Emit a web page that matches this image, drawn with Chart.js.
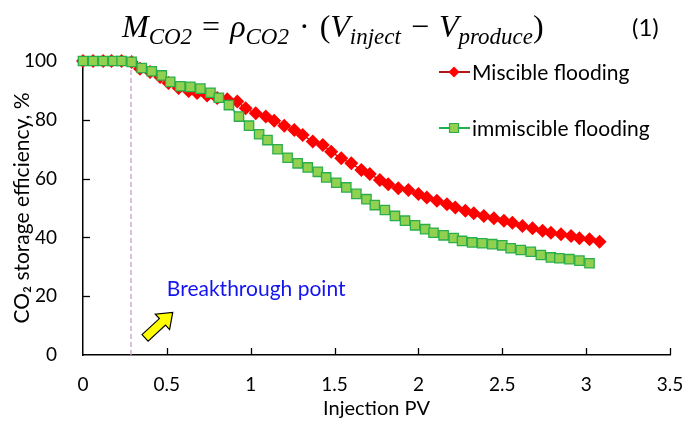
<!DOCTYPE html>
<html>
<head>
<meta charset="utf-8">
<script src="https://cdn.jsdelivr.net/npm/chart.js@4.4.1/dist/chart.umd.min.js"></script>
<style>
html, body { margin: 0; padding: 0; background: #fff; }
#wrap { position: relative; width: 685px; height: 422px; overflow: hidden; }
#eq { position: absolute; left: 122px; top: 8px; font-family: "Liberation Serif", serif; font-size: 32px; white-space: nowrap; color: #000; }
#eq i { font-style: italic; }
#eq sub { font-size: 23px; font-style: italic; vertical-align: -7px; line-height: 0; }
#eq .op { padding: 0 10px; }
#eqn { position: absolute; left: 632px; top: 12px; font-family: Lato, sans-serif; font-size: 24px; color: #000; }
canvas { position: absolute; left: 0; top: 0; }
</style>
</head>
<body>
<div id="wrap">
  <canvas id="chart" width="685" height="422"></canvas>
  <div id="eq"><i>M</i><sub>CO2</sub><span class="op">=</span><i>ρ</i><sub>CO2</sub><span class="op">·</span>(<i>V</i><sub>inject</sub><span class="op">−</span><i>V</i><sub>produce</sub>)</div>
  <div id="eqn">(1)</div>
</div>
<script>
// miscible flooding (red diamonds)
const missPV = [0.00, 0.06, 0.12, 0.17, 0.23, 0.29, 0.34, 0.40, 0.46, 0.51, 0.57, 0.63, 0.68, 0.74, 0.80,
  0.86, 0.92, 0.97, 1.03, 1.09, 1.14, 1.20, 1.26, 1.31, 1.37, 1.43, 1.48, 1.54, 1.60, 1.66,
  1.71, 1.77, 1.82, 1.88, 1.94, 2.00, 2.05, 2.11, 2.17, 2.22, 2.28, 2.33, 2.39, 2.45, 2.51,
  2.56, 2.62, 2.68, 2.74, 2.79, 2.85, 2.91, 2.96, 3.02, 3.08]
const missEff = [100, 100, 100, 100, 100, 99.7, 97.4, 96.3, 94.6, 92.5, 90.8, 89.8, 89.1, 88.3, 87.4,
  87.0, 86.2, 83.9, 82.2, 81.1, 79.7, 78.0, 76.5, 74.8, 72.6, 71.4, 69.1, 66.9, 65.2, 62.9,
  61.6, 59.5, 58.1, 56.7, 56.1, 54.8, 53.6, 52.5, 51.3, 50.2, 49.1, 48.2, 47.3, 46.5, 45.7,
  45.0, 43.9, 43.1, 42.3, 41.6, 41.1, 40.5, 39.7, 39.4, 38.5]

// immiscible flooding (green squares)
const immPV = [0.00, 0.06, 0.12, 0.18, 0.23, 0.29, 0.35, 0.41, 0.47, 0.52, 0.58, 0.64, 0.70, 0.76, 0.81,
  0.87, 0.93, 0.99, 1.05, 1.10, 1.16, 1.22, 1.28, 1.34, 1.40, 1.45, 1.51, 1.57, 1.63, 1.69,
  1.74, 1.80, 1.86, 1.92, 1.98, 2.04, 2.09, 2.15, 2.21, 2.26, 2.32, 2.38, 2.44, 2.50, 2.55,
  2.61, 2.67, 2.73, 2.79, 2.84, 2.90, 2.96, 3.02]
const immEff = [100, 100, 100, 100, 100, 99.7, 97.6, 96.5, 95.1, 92.9, 91.4, 91.2, 90.6, 89.2, 87.5,
  85.0, 81.1, 78.0, 75.1, 73.1, 70.0, 67.1, 65.2, 63.8, 62.3, 60.4, 58.6, 57.0, 54.8, 53.0,
  51.0, 49.3, 47.3, 45.7, 44.1, 42.8, 41.6, 40.7, 39.8, 38.8, 38.3, 38.0, 37.7, 37.3, 36.3,
  35.7, 35.1, 34.0, 33.2, 32.9, 32.6, 32.1, 31.2]

const pvTicks = [0, 0.5, 1, 1.5, 2, 2.5, 3, 3.5]
const effTicks = [0, 20, 40, 60, 80, 100]
const breakthroughPV = 0.286
const seriesNames = ["Miscible flooding", "immiscible flooding"]
const noteText = "Breakthrough point"

const FONT = "Lato, sans-serif"

function pts(xs, ys){
    return xs.map((x, i) => ({x: x, y: ys[i]}))
}

function drawArrow(ctx, x0, y0, x1, y1){
    // block arrow from (x0,y0) to tip (x1,y1)
    const len = Math.hypot(x1 - x0, y1 - y0)
    const ang = Math.atan2(y1 - y0, x1 - x0)
    const sw = 4.5, hw = 10.5, hl = 14
    const shape = [[0, -sw], [len - hl, -sw], [len - hl, -hw], [len, 0], [len - hl, hw], [len - hl, sw], [0, sw]]
    ctx.save()
    ctx.translate(x0, y0)
    ctx.rotate(ang)
    ctx.beginPath()
    shape.forEach((p, i) => i ? ctx.lineTo(p[0], p[1]) : ctx.moveTo(p[0], p[1]))
    ctx.closePath()
    ctx.fillStyle = "#ffff00"
    ctx.fill()
    ctx.strokeStyle = "#000"
    ctx.lineWidth = 1.2
    ctx.stroke()
    ctx.restore()
}

const decor = {
    id: "decor",
    beforeDatasetsDraw(chart){
        const ctx = chart.ctx, xs = chart.scales.x, ys = chart.scales.y
        const a = chart.chartArea
        ctx.save()
        ctx.strokeStyle = "#000"
        ctx.lineWidth = 1.3
        pvTicks.forEach(v => {
            if (v === 0) return
            const px = Math.round(xs.getPixelForValue(v)) + 0.5
            ctx.beginPath(); ctx.moveTo(px, a.bottom); ctx.lineTo(px, a.bottom - 7); ctx.stroke()
        })
        effTicks.forEach(v => {
            if (v === 0) return
            const py = Math.round(ys.getPixelForValue(v)) + 0.5
            ctx.beginPath(); ctx.moveTo(a.left, py); ctx.lineTo(a.left + 7, py); ctx.stroke()
        })
        ctx.restore()
    },
    afterDraw(chart){
        const ctx = chart.ctx, xs = chart.scales.x, ys = chart.scales.y
        ctx.save()
        // annotation
        ctx.font = "21px " + FONT
        ctx.fillStyle = "#1414f0"
        ctx.textBaseline = "middle"
        ctx.fillText(noteText, xs.getPixelForValue(0.5), ys.getPixelForValue(22.2))
        drawArrow(ctx, xs.getPixelForValue(0.37), ys.getPixelForValue(5.8),
                  xs.getPixelForValue(0.535), ys.getPixelForValue(14.5))
        // legend
        const ds = chart.data.datasets
        const rows = [72, 128]
        ds.slice(0, 2).forEach((d, i) => {
            const y = rows[i]
            ctx.strokeStyle = d.legendLine
            ctx.lineWidth = 2
            ctx.beginPath(); ctx.moveTo(439, y); ctx.lineTo(470, y); ctx.stroke()
            ctx.fillStyle = d.pointBackgroundColor
            ctx.strokeStyle = d.pointBorderColor
            ctx.lineWidth = 1.2
            ctx.beginPath()
            if (d.pointStyle === "rectRot"){
                ctx.moveTo(454, y - 5.5); ctx.lineTo(459.5, y); ctx.lineTo(454, y + 5.5); ctx.lineTo(448.5, y)
                ctx.closePath(); ctx.fill()
            } else {
                ctx.rect(449.5, y - 4.5, 9, 9); ctx.fill(); ctx.stroke()
            }
            ctx.fillStyle = "#000"
            ctx.font = "21px " + FONT
            ctx.textBaseline = "middle"
            ctx.fillText(d.label, 472, y + 1)
        })
        ctx.restore()
    }
}

const ctx = document.getElementById("chart").getContext("2d")

const chart = new Chart(ctx, {
    type: "line",
    data: {
        datasets: [{
            label: seriesNames[0],
            data: pts(missPV, missEff),
            borderColor: "#e00000",
            legendLine: "#b01818",
            borderWidth: 1.5,
            pointStyle: "rectRot",
            pointRadius: 7,
            pointBackgroundColor: "#ff0000",
            pointBorderColor: "#ff0000",
            pointBorderWidth: 0,
            clip: false,
            order: 2
        }, {
            label: seriesNames[1],
            data: pts(immPV, immEff),
            borderColor: "#1fb050",
            legendLine: "#1fb050",
            borderWidth: 1.5,
            pointStyle: "rect",
            pointRadius: 6.6,
            pointBackgroundColor: "#92d050",
            pointBorderColor: "#2aae4a",
            pointBorderWidth: 1.3,
            clip: false,
            order: 1
        }, {
            label: "breakthrough",
            data: [{x: breakthroughPV, y: 0}, {x: breakthroughPV, y: 100}],
            borderColor: "#c8a0c8",
            borderWidth: 1.3,
            borderDash: [5, 3],
            pointRadius: 0,
            order: 3
        }]
    },
    options: {
        responsive: false,
        animation: false,
        layout: { padding: { top: 61, right: 15, left: 0, bottom: 0 } },
        plugins: { legend: { display: false }, tooltip: { enabled: false } },
        scales: {
            x: {
                type: "linear",
                min: 0,
                max: 3.5,
                afterBuildTicks: s => { s.ticks = pvTicks.map(v => ({value: v})) },
                afterFit: s => { s.height = 67; s.paddingRight = 0; s.paddingLeft = 0 },
                grid: { display: false },
                border: { display: true, color: "#000", width: 1.5 },
                ticks: { color: "#000", font: { family: FONT, size: 19 }, padding: 10, maxRotation: 0,
                         callback: v => String(v) },
                title: { display: true, text: "Injection PV", color: "#000", font: { family: FONT, size: 20 }, padding: { top: 0, bottom: 1 } }
            },
            y: {
                min: 0,
                max: 100,
                afterBuildTicks: s => { s.ticks = effTicks.map(v => ({value: v})) },
                afterFit: s => { s.width = 83; s.paddingTop = 0; s.paddingBottom = 0 },
                grid: { display: false },
                border: { display: true, color: "#000", width: 1.5 },
                ticks: { color: "#000", font: { family: FONT, size: 19 }, padding: 18, callback: v => String(v) },
                title: { display: true, text: "CO₂ storage efficiency, %", color: "#000", font: { family: FONT, size: 21 }, padding: { top: 10, bottom: 0 } }
            }
        }
    },
    plugins: [decor]
})
</script>
</body>
</html>
